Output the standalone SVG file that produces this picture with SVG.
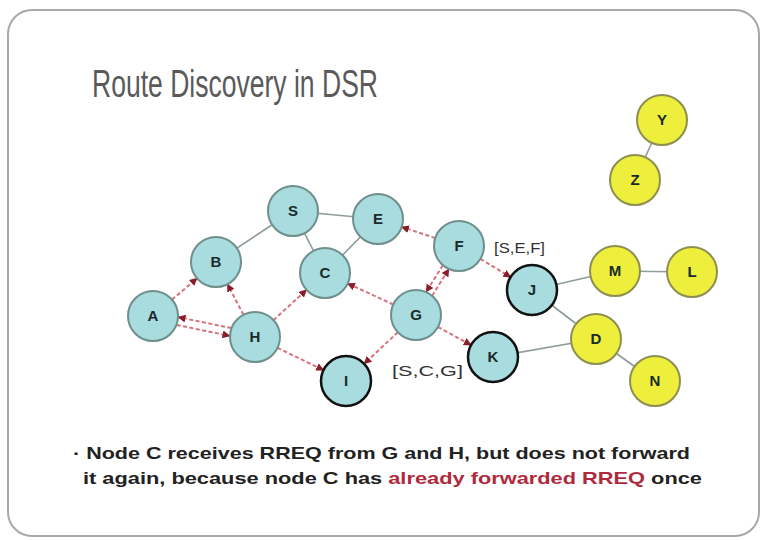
<svg xmlns="http://www.w3.org/2000/svg" width="761" height="540" viewBox="0 0 761 540">
<style>
.frame{fill:#fff;stroke:#a8a8a8;stroke-width:2}
.n circle{fill:#a8dcde;stroke:#6f8f8c;stroke-width:2}
.n.dark circle{stroke:#111;stroke-width:2.5}
.n.y circle{fill:#eeee3c;stroke:#8e8e52;stroke-width:2}
.n text{font-family:"Liberation Sans",Arial,sans-serif;font-weight:bold;font-size:15px;fill:#1b2a2a;text-anchor:middle}
.g{stroke:#8e9c9a;stroke-width:1.6;fill:none}
.r{stroke:#d9707c;stroke-width:2;stroke-dasharray:4 2.5;fill:none;marker-end:url(#ah)}
.lbl{font-family:"Liberation Sans",Arial,sans-serif;font-size:15px;fill:#333}
.body{font-family:"Liberation Sans",Arial,sans-serif;font-weight:bold;font-size:17px;fill:#222}
</style>
<defs>
<marker id="ah" viewBox="0 0 10 10" refX="9" refY="5" markerWidth="8" markerHeight="8" markerUnits="userSpaceOnUse" orient="auto">
<path d="M0,0 L10,5 L0,10 z" fill="#8b1c2c"/>
</marker>
</defs>
<rect width="761" height="540" fill="#fff"/>
<rect class="frame" x="8" y="10" width="751" height="526" rx="24"/>
<text x="92" y="97" font-family="'Liberation Sans',Arial,sans-serif" font-size="38" fill="#5a5a5a" textLength="286" lengthAdjust="spacingAndGlyphs">Route Discovery in DSR</text>

<g id="connectors">
<line class="g" x1="293" y1="211" x2="216" y2="262"/>
<line class="g" x1="293" y1="211" x2="378" y2="219"/>
<line class="g" x1="293" y1="211" x2="325" y2="273"/>
<line class="g" x1="378" y1="219" x2="325" y2="273"/>
<line class="g" x1="532" y1="290" x2="615" y2="271"/>
<line class="g" x1="615" y1="271" x2="692" y2="272"/>
<line class="g" x1="532" y1="290" x2="596" y2="339"/>
<line class="g" x1="493" y1="357" x2="596" y2="339"/>
<line class="g" x1="596" y1="339" x2="655" y2="381"/>
<line class="g" x1="662" y1="120" x2="635" y2="180"/>
<line class="r" x1="172" y1="299.7" x2="197" y2="278.3"/>
<line class="r" x1="243.5" y1="314.8" x2="227.5" y2="284.2"/>
<line class="r" x1="231.3" y1="328.1" x2="178.3" y2="317.1"/>
<line class="r" x1="176.7" y1="324.9" x2="229.7" y2="335.9"/>
<line class="r" x1="273.5" y1="320.1" x2="306.5" y2="289.9"/>
<line class="r" x1="277.5" y1="347.9" x2="323.5" y2="370.1"/>
<line class="r" x1="393.3" y1="304.5" x2="347.7" y2="283.5"/>
<line class="r" x1="397.8" y1="332.2" x2="364.2" y2="363.8"/>
<line class="r" x1="432.2" y1="295.7" x2="448.8" y2="269.1"/>
<line class="r" x1="442.8" y1="265.3" x2="426.2" y2="291.9"/>
<line class="r" x1="435.3" y1="238.1" x2="401.7" y2="226.9"/>
<line class="r" x1="480.4" y1="258.9" x2="510.6" y2="277.1"/>
<line class="r" x1="438" y1="327" x2="471" y2="345"/>
</g>

<g id="S" class="n"><circle cx="293" cy="211" r="25"/><text x="293" y="216">S</text></g>
<g id="E" class="n"><circle cx="378" cy="219" r="25"/><text x="378" y="224">E</text></g>
<g id="B" class="n"><circle cx="216" cy="262" r="25"/><text x="216" y="267">B</text></g>
<g id="C" class="n"><circle cx="325" cy="273" r="25"/><text x="325" y="278">C</text></g>
<g id="A" class="n"><circle cx="153" cy="316" r="25"/><text x="153" y="321">A</text></g>
<g id="H" class="n"><circle cx="255" cy="337" r="25"/><text x="255" y="342">H</text></g>
<g id="I" class="n dark"><circle cx="346" cy="381" r="25"/><text x="346" y="386">I</text></g>
<g id="G" class="n"><circle cx="416" cy="315" r="25"/><text x="416" y="320">G</text></g>
<g id="F" class="n"><circle cx="459" cy="246" r="25"/><text x="459" y="251">F</text></g>
<g id="J" class="n dark"><circle cx="532" cy="290" r="25"/><text x="532" y="295">J</text></g>
<g id="K" class="n dark"><circle cx="493" cy="357" r="25"/><text x="493" y="362">K</text></g>
<g id="M" class="n y"><circle cx="615" cy="271" r="25"/><text x="615" y="276">M</text></g>
<g id="L" class="n y"><circle cx="692" cy="272" r="25"/><text x="692" y="277">L</text></g>
<g id="D" class="n y"><circle cx="596" cy="339" r="25"/><text x="596" y="344">D</text></g>
<g id="N" class="n y"><circle cx="655" cy="381" r="25"/><text x="655" y="386">N</text></g>
<g id="Y" class="n y"><circle cx="662" cy="120" r="25"/><text x="662" y="125">Y</text></g>
<g id="Z" class="n y"><circle cx="635" cy="180" r="25"/><text x="635" y="185">Z</text></g>

<text class="lbl" x="494" y="253" textLength="51" lengthAdjust="spacingAndGlyphs">[S,E,F]</text>
<text class="lbl" x="392" y="376" textLength="71" lengthAdjust="spacingAndGlyphs">[S,C,G]</text>

<text class="body" x="73" y="459" textLength="617" lengthAdjust="spacingAndGlyphs">· Node C receives RREQ from G and H, but does not forward</text>
<text class="body" x="83" y="484" textLength="619" lengthAdjust="spacingAndGlyphs">it again, because node C has <tspan fill="#b02a3c">already forwarded RREQ</tspan> once</text>
</svg>
